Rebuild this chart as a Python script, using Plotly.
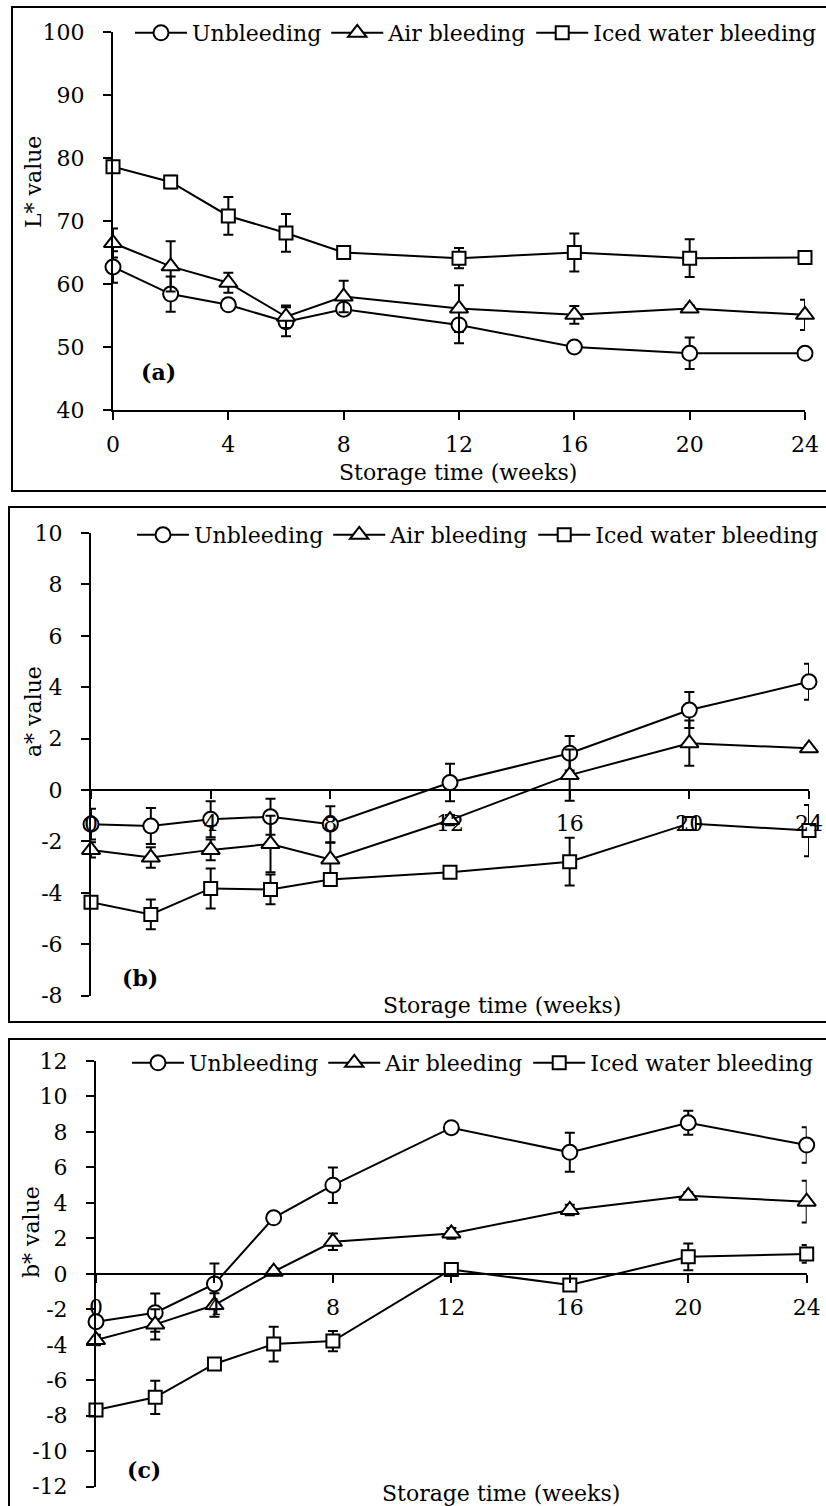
import plotly.graph_objects as go

W, H = 826, 1506

weeks = [0, 2, 4, 6, 8, 12, 16, 20, 24]
x_ticks = [0, 4, 8, 12, 16, 20, 24]
series_names = ["Unbleeding", "Air bleeding", "Iced water bleeding"]

# L* values
unbleed_L = [62.7, 58.4, 56.7, 54.0, 56.0, 53.5, 50.0, 49.0, 49.0]
unbleed_L_err = [2.5, 2.8, 0.5, 2.3, 0.5, 2.9, 0.5, 2.5, 0.3]
air_L = [66.5, 62.8, 60.2, 54.8, 58.0, 56.1, 55.1, 56.1, 55.1]
air_L_err = [2.3, 4.0, 1.6, 1.8, 2.5, 3.7, 1.4, 0.5, 2.4]
ice_L = [78.6, 76.2, 70.8, 68.1, 65.0, 64.1, 65.0, 64.1, 64.2]
ice_L_err = [0.5, 1.0, 3.0, 3.0, 0.5, 1.6, 3.0, 3.0, 0.5]

# a* values
unbleed_a = [-1.33, -1.40, -1.14, -1.04, -1.33, 0.29, 1.43, 3.11, 4.21]
unbleed_a_err = [0.6, 0.7, 0.7, 0.7, 0.7, 0.73, 0.67, 0.7, 0.7]
air_a = [-2.33, -2.63, -2.33, -2.10, -2.70, -1.17, 0.58, 1.82, 1.62]
air_a_err = [0.3, 0.4, 0.4, 1.1, 0.65, 0.2, 1.0, 0.88, 0.1]
ice_a = [-4.37, -4.84, -3.83, -3.87, -3.48, -3.20, -2.79, -1.30, -1.58]
ice_a_err = [0.2, 0.58, 0.78, 0.58, 0.2, 0.1, 0.93, 0.1, 1.0]

# b* values
unbleed_b = [-2.70, -2.19, -0.57, 3.16, 5.00, 8.24, 6.85, 8.52, 7.26]
unbleed_b_err = [0.3, 1.08, 1.16, 0.2, 1.0, 0.2, 1.1, 0.68, 1.0]
air_b = [-3.73, -2.85, -1.76, 0.12, 1.81, 2.28, 3.60, 4.40, 4.07]
air_b_err = [0.3, 0.85, 0.66, 0.2, 0.47, 0.3, 0.3, 0.2, 1.18]
ice_b = [-7.68, -6.96, -5.08, -3.96, -3.79, 0.25, -0.63, 0.96, 1.12]
ice_b_err = [0.2, 0.94, 0.2, 0.98, 0.57, 0.2, 0.3, 0.75, 0.5]

L_ticks = [40, 50, 60, 70, 80, 90, 100]
a_ticks = [-8, -6, -4, -2, 0, 2, 4, 6, 8, 10]
b_ticks = [-12, -10, -8, -6, -4, -2, 0, 2, 4, 6, 8, 10, 12]

FONT = "DejaVu Serif"
FS = 22


def px_x(p):
    return p / W


def px_y(p):
    return 1 - p / H


symbols = ["circle", "triangle-up", "square"]
sizes = [15, 16, 13]

panels = [
    dict(data=[(unbleed_L, unbleed_L_err), (air_L, air_L_err), (ice_L, ice_L_err)],
         xa="x", ya="y", legend="legend"),
    dict(data=[(unbleed_a, unbleed_a_err), (air_a, air_a_err), (ice_a, ice_a_err)],
         xa="x2", ya="y2", legend="legend2"),
    dict(data=[(unbleed_b, unbleed_b_err), (air_b, air_b_err), (ice_b, ice_b_err)],
         xa="x3", ya="y3", legend="legend3"),
]

fig = go.Figure()
for p in panels:
    for i, (vals, errs) in enumerate(p["data"]):
        fig.add_trace(go.Scatter(
            x=weeks, y=vals, name=series_names[i], mode="lines+markers",
            xaxis=p["xa"], yaxis=p["ya"], legend=p["legend"],
            line=dict(color="black", width=2),
            marker=dict(symbol=symbols[i], size=sizes[i], color="white",
                        line=dict(color="black", width=2)),
            error_y=dict(type="data", array=errs, visible=True,
                         color="black", thickness=2, width=5),
            cliponaxis=False,
        ))

common_x = dict(range=[0, 24], tickvals=x_ticks, ticktext=[str(v) for v in x_ticks],
                showline=True, linecolor="black", linewidth=2,
                ticks="outside", ticklen=8, tickwidth=2, tickcolor="black",
                showgrid=False, zeroline=False, ticklabelstandoff=6,
                tickfont=dict(family=FONT, size=FS, color="black"))


def common_y(ticks):
    return dict(tickvals=ticks, ticktext=[str(v) for v in ticks],
                range=[ticks[0], ticks[-1]],
                showline=True, linecolor="black", linewidth=2,
                ticks="outside", ticklen=8, tickwidth=2, tickcolor="black",
                showgrid=False, zeroline=False, ticklabelstandoff=14,
                tickfont=dict(family=FONT, size=FS, color="black"))


# Panel geometry (pixels)
ax_a = dict(x0=113, x1=805, ybot=410, ytop=32)
ax_b = dict(x0=91, x1=809, ybot=995.6, ytop=533)
ax_c = dict(x0=96, x1=806.7, ybot=1486.7, ytop=1061)


def zero_pos(ax, lo, hi):
    py = ax["ybot"] - (0 - lo) / (hi - lo) * (ax["ybot"] - ax["ytop"])
    return px_y(py)


fig.update_layout(
    width=W, height=H, margin=dict(l=0, r=0, t=0, b=0, autoexpand=False),
    paper_bgcolor="white", plot_bgcolor="rgba(0,0,0,0)",
    font=dict(family=FONT, size=FS, color="black"),
    xaxis=dict(domain=[px_x(ax_a["x0"]), px_x(ax_a["x1"])], anchor="y", **common_x),
    yaxis=dict(domain=[px_y(ax_a["ybot"]), px_y(ax_a["ytop"])], anchor="x", **common_y(L_ticks)),
    xaxis2=dict(domain=[px_x(ax_b["x0"]), px_x(ax_b["x1"])], anchor="free",
                position=zero_pos(ax_b, -8, 10), **common_x),
    yaxis2=dict(domain=[px_y(ax_b["ybot"]), px_y(ax_b["ytop"])], anchor="x2", **common_y(a_ticks)),
    xaxis3=dict(domain=[px_x(ax_c["x0"]), px_x(ax_c["x1"])], anchor="free",
                position=zero_pos(ax_c, -12, 12), **common_x),
    yaxis3=dict(domain=[px_y(ax_c["ybot"]), px_y(ax_c["ytop"])], anchor="x3", **common_y(b_ticks)),
)

leg_common = dict(orientation="h", xanchor="left", yanchor="middle",
                  bgcolor="rgba(0,0,0,0)", borderwidth=0, itemwidth=52,
                  font=dict(family=FONT, size=FS, color="black"),
                  itemclick=False, itemdoubleclick=False)
fig.update_layout(
    legend=dict(x=px_x(130), y=px_y(33), **leg_common),
    legend2=dict(x=px_x(132), y=px_y(535), **leg_common),
    legend3=dict(x=px_x(127), y=px_y(1063), **leg_common),
)

# Panel frames
frames = [(12, 7, 840, 491), (9, 507, 840, 1022), (9, 1039, 840, 1520)]
for x0, y0, x1, y1 in frames:
    fig.add_shape(type="rect", xref="paper", yref="paper",
                  x0=px_x(x0), x1=px_x(x1), y0=px_y(y0), y1=px_y(y1),
                  line=dict(color="black", width=2), fillcolor="rgba(0,0,0,0)")

# Texts
texts = [
    ("L* value", 33, 182, -90, False),
    ("a* value", 33, 712, -90, False),
    ("b* value", 31, 1232, -90, False),
    ("Storage time (weeks)", 458, 473, 0, False),
    ("Storage time (weeks)", 502, 1005, 0, False),
    ("Storage time (weeks)", 501, 1493, 0, False),
    ("(a)", 158, 372, 0, True),
    ("(b)", 140, 978, 0, True),
    ("(c)", 144, 1470, 0, True),
]
for t, x, y, ang, bold in texts:
    fig.add_annotation(text=f"<b>{t}</b>" if bold else t, xref="paper", yref="paper",
                       x=px_x(x), y=px_y(y), xanchor="center", yanchor="middle",
                       showarrow=False, textangle=ang,
                       font=dict(family=FONT, size=FS, color="black"))

fig.write_html("out.html")
